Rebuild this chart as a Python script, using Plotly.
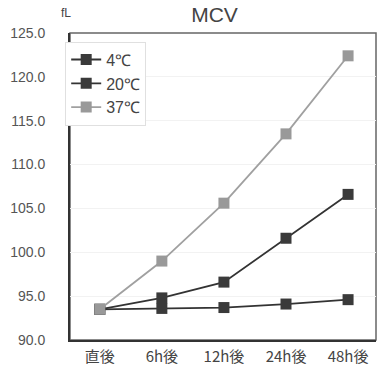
import plotly.graph_objects as go

categories = ["直後", "6h後", "12h後", "24h後", "48h後"]
series_names = ["4℃", "20℃", "37℃"]
values_4c = [93.5, 93.6, 93.7, 94.1, 94.6]
values_20c = [93.5, 94.8, 96.6, 101.6, 106.6]
values_37c = [93.5, 99.0, 105.6, 113.5, 122.4]
y_ticks = [90, 95, 100, 105, 110, 115, 120, 125]
y_tick_labels = ["90.0", "95.0", "100.0", "105.0", "110.0", "115.0", "120.0", "125.0"]

styles = [
    dict(line_color="#333333", marker_color="#3a3a3a"),
    dict(line_color="#333333", marker_color="#3a3a3a"),
    dict(line_color="#a0a0a0", marker_color="#999999"),
]

fig = go.Figure()
for name, vals, st in zip(series_names, [values_4c, values_20c, values_37c], styles):
    fig.add_trace(go.Scatter(
        x=list(range(len(categories))), y=vals, name=name, mode="lines+markers",
        line=dict(color=st["line_color"], width=1.8),
        marker=dict(symbol="square", size=11, color=st["marker_color"]),
    ))

fig.update_layout(
    width=379, height=378,
    margin=dict(l=70, r=3, t=33, b=38, autoexpand=False),
    paper_bgcolor="white", plot_bgcolor="white",
    font=dict(family="Liberation Sans, Arial, sans-serif", color="#444444"),
    title=dict(text="MCV", x=0.566, xanchor="center", y=0.962, yanchor="middle",
               font=dict(size=21, color="#444444")),
    showlegend=True,
    legend=dict(xref="container", yref="container", x=0.172, y=0.89,
                xanchor="left", yanchor="top",
                bgcolor="white", bordercolor="#e0e0e0", borderwidth=1,
                font=dict(size=16, color="#444444"), tracegroupgap=0,
                itemwidth=30),
    annotations=[dict(text="fL", xref="paper", yref="paper", x=-0.013, y=1.065,
                      xanchor="center", yanchor="middle", showarrow=False,
                      font=dict(size=12, color="#444444"))],
)
fig.update_xaxes(
    range=[-0.48, 4.45], tickmode="array", tickvals=list(range(len(categories))),
    ticktext=categories, showgrid=False, zeroline=False, automargin=False,
    showline=True, linecolor="#333333", linewidth=2, mirror=False,
    ticks="", ticklabelstandoff=2,
    tickfont=dict(family="Noto Sans CJK JP", size=15, color="#444444"),
)
fig.update_yaxes(
    range=[90, 125], tickmode="array", tickvals=y_ticks, ticktext=y_tick_labels,
    showgrid=True, gridcolor="#f2f2f2", zeroline=False, automargin=False,
    showline=True, linecolor="#333333", linewidth=2,
    ticks="", ticklabelstandoff=20,
    tickfont=dict(size=14, color="#555555"),
)
# top and right frame
fig.add_shape(type="rect", xref="paper", yref="paper", x0=0, y0=0, x1=1, y1=1,
              line=dict(color="#666666", width=1.5), layer="below")

fig.write_html("out.html", config={"displayModeBar": False},
               post_script="document.body.style.margin='0';")
